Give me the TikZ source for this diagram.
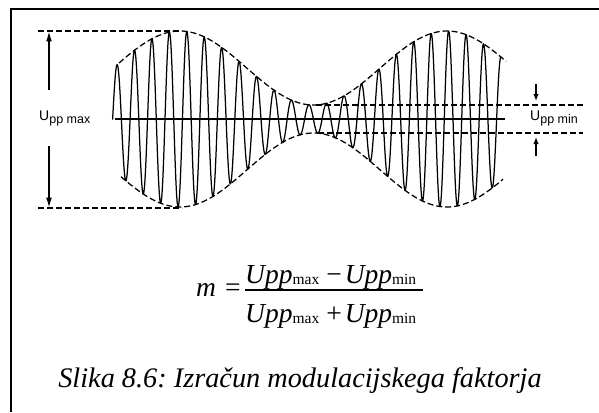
\documentclass[tikz,border=0pt]{standalone}
\usepackage{fontspec}
\setmainfont{Liberation Serif}
\newfontfamily\lsans{Liberation Sans}
\usetikzlibrary{arrows.meta}
\frenchspacing
\newcommand\subtxt[1]{\raisebox{-1.5pt}{\fontsize{15.5}{16}\selectfont #1}}
\newcommand\lblsub[1]{\raisebox{-3pt}{\fontsize{12.5}{13}\selectfont #1}}
\begin{document}
\begin{tikzpicture}[x=1pt,y=-1pt,
  envl/.style={line width=1.25pt, dash pattern=on 6pt off 3pt},
  wave/.style={line width=1.25pt, line join=round},
  dimarrow/.style={line width=1.3pt, -{Latex[length=10pt,width=6pt]}},
  smallarrow/.style={line width=1.3pt, -{Latex[length=7pt,width=5.5pt]}},
  lbl/.style={font=\lsans\fontsize{14}{15}\selectfont, inner sep=0pt},
  eqtxt/.style={font=\fontsize{27.5}{30}\selectfont, inner sep=0pt}
]
\useasboundingbox (0,0) rectangle (599,412);
% frame
\draw[line width=1.6pt] (11,412) -- (11,9) -- (599,9);
% centre line
\coordinate (c0) at (115,119);
\coordinate (c1) at (505,119);
\draw[line width=1.4pt] (c0) -- (c1);
% carrier
\draw[wave] plot[domain=112.6:501, samples=1400] (\x, {119 - (51+37*cos(((\x-180)/267)*360))*cos(((\x-117)/17.4545)*360)});
% envelopes
\draw[envl] plot[domain=119:506, samples=200] (\x, {119 - (51+37*cos(((\x-180)/267)*360))});
\draw[envl] plot[domain=121:503, samples=200] (\x, {119 + (51+37*cos(((\x-180)/267)*360))});
% Upp max lines
\coordinate (mt0) at (38,31);
\coordinate (mt1) at (182,31);
\coordinate (mb0) at (38,208);
\coordinate (mb1) at (182,208);
\draw[envl] (mt0) -- (mt1);
\draw[envl] (mb0) -- (mb1);
% Upp min lines
\coordinate (nt0) at (316,105);
\coordinate (nt1) at (583,105);
\coordinate (nb0) at (318,133);
\coordinate (nb1) at (583,133);
\draw[envl] (nt0) -- (nt1);
\draw[envl] (nb0) -- (nb1);
% Upp max arrows
\coordinate (a1s) at (49,90);
\coordinate (a1e) at (49,31.5);
\coordinate (a2s) at (49,146);
\coordinate (a2e) at (49,207.5);
\draw[dimarrow] (a1s) -- (a1e);
\draw[dimarrow] (a2s) -- (a2e);
\node[lbl, anchor=base west] (umax) at (39,120) {U\lblsub{pp max}};
% Upp min arrows
\coordinate (b1s) at (536,84);
\coordinate (b1e) at (536,101);
\coordinate (b2s) at (536,156);
\coordinate (b2e) at (536,137);
\draw[smallarrow] (b1s) -- (b1e);
\draw[smallarrow] (b2s) -- (b2e);
\node[lbl, anchor=base west] (umin) at (530,120) {U\lblsub{pp min}};
% formula
\node[eqtxt, anchor=base west] (mlhs) at (196,296) {\textit{m}\hspace{9pt}=};
\node[eqtxt, anchor=base west] (num) at (245,283) {\textit{Upp}\subtxt{max}\hspace{7pt}−\hspace{3pt}\textit{Upp}\subtxt{min}};
\node[eqtxt, anchor=base west] (den) at (245,322) {\textit{Upp}\subtxt{max}\hspace{7pt}+\hspace{3pt}\textit{Upp}\subtxt{min}};
\coordinate (fb0) at (245,290);
\coordinate (fb1) at (423,290);
\draw[line width=1.3pt] (fb0) -- (fb1);
% caption
\node[inner sep=0pt, anchor=base, font=\fontsize{28.3}{30}\selectfont\itshape] (cap) at (300,387) {Slika 8.6: Izračun modulacijskega faktorja};
\end{tikzpicture}
\end{document}
